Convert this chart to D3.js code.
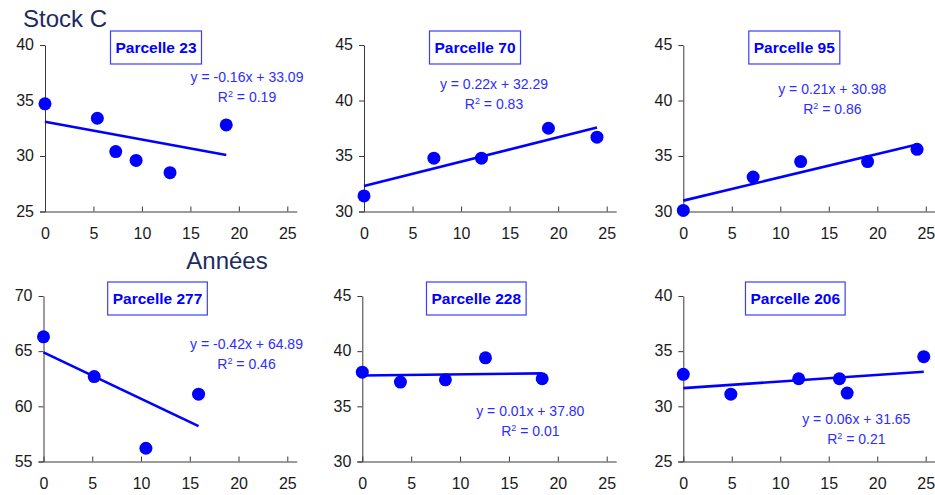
<!DOCTYPE html>
<html>
<head>
<meta charset="utf-8">
<script src="https://cdn.jsdelivr.net/npm/d3@7"></script>
<style>
  html, body { margin: 0; padding: 0; background: #ffffff; }
  svg { display: block; }
  text { font-family: "Liberation Sans", Arial, sans-serif; }
</style>
</head>
<body>
<svg id="chart" width="935" height="495"></svg>
<script>
// Plot names
const parcelles = ["Parcelle 23", "Parcelle 70", "Parcelle 95", "Parcelle 277", "Parcelle 228", "Parcelle 206"];

// Years since first sampling (x) and carbon stock (y) per plot
const xs23  = [0, 5.4, 7.3, 9.4, 12.9, 18.7];
const ys23  = [34.7, 33.4, 30.4, 29.6, 28.5, 32.8];
const xs70  = [0, 7.2, 12.1, 19.0, 24.0];
const ys70  = [31.4, 34.8, 34.8, 37.5, 36.7];
const xs95  = [0, 7.2, 12.1, 19.0, 24.1];
const ys95  = [30.1, 33.1, 34.5, 34.5, 35.6];
const xs277 = [0, 5.2, 10.5, 15.9];
const ys277 = [66.3, 62.7, 56.2, 61.1];
const xs228 = [0, 3.9, 8.5, 12.6, 18.4];
const ys228 = [38.1, 37.2, 37.4, 39.4, 37.5];
const xs206 = [0, 4.9, 11.9, 16.1, 16.9, 24.8];
const ys206 = [32.9, 31.1, 32.5, 32.5, 31.2, 34.5];

// Linear fits (slope, intercept, R²)
const slopes     = [-0.16, 0.22, 0.21, -0.42, 0.01, 0.06];
const intercepts = [33.09, 32.29, 30.98, 64.89, 37.80, 31.65];
const r2s        = [0.19, 0.83, 0.86, 0.46, 0.01, 0.21];

// Axis ranges and ticks
const yDomains = [[25, 40], [30, 45], [30, 45], [55, 70], [30, 45], [25, 40]];
const xDomain  = [0, 25];
const xTicks   = [0, 5, 10, 15, 20, 25];

const xSeries = [xs23, xs70, xs95, xs277, xs228, xs206];
const ySeries = [ys23, ys70, ys95, ys277, ys228, ys206];

// ---- layout ----
const panelBoxes = [
  { left: 45,    right: 287.3, top: 45,  bottom: 211.5 },
  { left: 364,   right: 606.7, top: 45,  bottom: 211.5 },
  { left: 683.3, right: 925.8, top: 45,  bottom: 211.5 },
  { left: 43.5,  right: 287.3, top: 296, bottom: 461.5 },
  { left: 362.3, right: 606.7, top: 296, bottom: 461.5 },
  { left: 683.3, right: 925.7, top: 296, bottom: 461.5 }
];
// name box centre and equation anchor (relative to plot area origin)
const titleOffsets = [[111, 2], [111, 2], [111, 2], [114, 2], [114, 2], [112, 2]];
const eqOffsets    = [[202, 37], [130, 44], [149, 49], [203, 53], [168, 120], [173, 128]];

const BLUE = "#0000ff";
const EQ_BLUE = "#2d2dff";
const AXIS = "#3a3a3a";
const TICK_TEXT = "#1a1a1a";
const FONT = "'Liberation Sans', Arial, sans-serif";

const svg = d3.select("#chart");

svg.append("text")
  .attr("x", 23).attr("y", 27)
  .attr("font-size", 24)
  .attr("fill", "#1c2b5f")
  .text("Stock C");

svg.append("text")
  .attr("x", 227).attr("y", 269)
  .attr("text-anchor", "middle")
  .attr("font-size", 24)
  .attr("fill", "#1c2b5f")
  .text("Années");

parcelles.forEach((name, i) => {
  const b = panelBoxes[i];
  const x = d3.scaleLinear().domain(xDomain).range([b.left, b.right]);
  const y = d3.scaleLinear().domain(yDomains[i]).range([b.bottom, b.top]);
  const g = svg.append("g");

  // y axis
  const yTicks = d3.range(yDomains[i][0], yDomains[i][1] + 0.01, 5);
  const yAxis = d3.axisLeft(y).tickValues(yTicks).tickSize(5).tickPadding(6).tickSizeOuter(0);
  const gy = g.append("g").attr("transform", `translate(${b.left},0)`).call(yAxis);
  gy.attr("font-size", 16).attr("font-family", FONT);
  gy.select(".domain").attr("stroke", AXIS);
  gy.selectAll(".tick line").attr("stroke", AXIS);
  gy.selectAll(".tick text").attr("fill", TICK_TEXT).attr("dy", "0.3em");

  // x axis (ticks pointing inward)
  const xAxis = d3.axisBottom(x).tickValues(xTicks).tickSize(-5).tickPadding(16).tickSizeOuter(0);
  const gx = g.append("g").attr("transform", `translate(0,${b.bottom})`).call(xAxis);
  gx.attr("font-size", 16).attr("font-family", FONT);
  gx.select(".domain").remove();
  gx.selectAll(".tick line").attr("stroke", AXIS);
  gx.selectAll(".tick text").attr("fill", TICK_TEXT);
  gx.append("line")
    .attr("x1", b.left - 5).attr("x2", x(xDomain[1]) + 10)
    .attr("y1", 0.5).attr("y2", 0.5)
    .attr("stroke", AXIS).attr("stroke-width", 1);

  // trend line across the sampled years
  const xe = d3.extent(xSeries[i]);
  const fit = v => slopes[i] * v + intercepts[i];
  g.append("line")
    .attr("x1", x(xe[0])).attr("y1", y(fit(xe[0])))
    .attr("x2", x(xe[1])).attr("y2", y(fit(xe[1])))
    .attr("stroke", BLUE).attr("stroke-width", 2.6);

  // observations
  g.selectAll("circle.pt")
    .data(xSeries[i].map((v, k) => [v, ySeries[i][k]]))
    .join("circle")
    .attr("class", "pt")
    .attr("cx", d => x(d[0])).attr("cy", d => y(d[1]))
    .attr("r", 6.5)
    .attr("fill", BLUE);

  // plot name box
  const tcx = b.left + titleOffsets[i][0];
  const tcy = b.top + titleOffsets[i][1];
  const frame = g.append("rect");
  const label = g.append("text")
    .attr("x", tcx).attr("y", tcy + 5.5)
    .attr("text-anchor", "middle")
    .attr("font-size", 15.5).attr("font-weight", "bold")
    .attr("fill", BLUE)
    .text(name);
  const w = label.node().getComputedTextLength();
  frame
    .attr("x", tcx - w / 2 - 5).attr("y", tcy - 16)
    .attr("width", w + 10).attr("height", 33)
    .attr("fill", "#ffffff")
    .attr("stroke", "#3d3dff").attr("stroke-width", 1.2);

  // regression equation and R²
  const ex = b.left + eqOffsets[i][0];
  const ey = b.top + eqOffsets[i][1];
  const sign = intercepts[i] >= 0 ? "+" : "-";
  g.append("text")
    .attr("x", ex).attr("y", ey)
    .attr("text-anchor", "middle")
    .attr("font-size", 14).attr("fill", EQ_BLUE)
    .text(`y = ${slopes[i].toFixed(2)}x ${sign} ${Math.abs(intercepts[i]).toFixed(2)}`);
  const r = g.append("text")
    .attr("x", ex).attr("y", ey + 19.5)
    .attr("text-anchor", "middle")
    .attr("font-size", 14).attr("fill", EQ_BLUE);
  r.append("tspan").text("R");
  r.append("tspan").attr("font-size", 9).attr("dy", -5).text("2");
  r.append("tspan").attr("dy", 5).text(` = ${r2s[i].toFixed(2)}`);
});
</script>
</body>
</html>
